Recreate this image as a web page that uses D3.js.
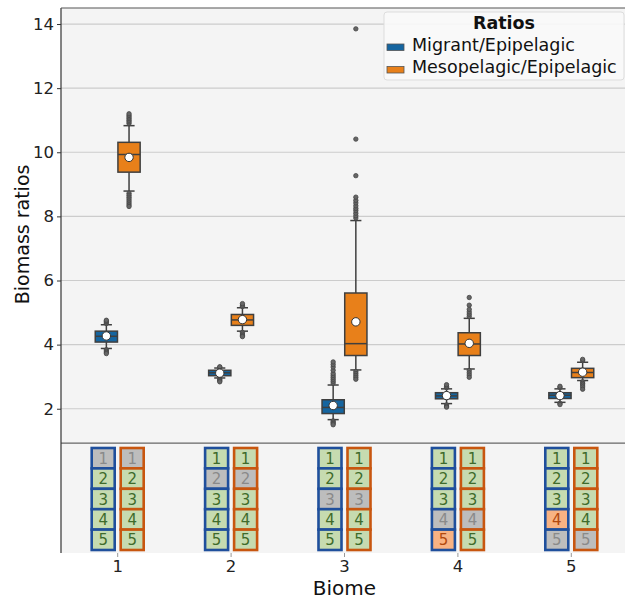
<!DOCTYPE html>
<html>
<head>
<meta charset="utf-8">
<script src="https://cdn.jsdelivr.net/npm/d3@7"></script>
<style>
  body { margin: 0; background: #fff; }
  svg { font-family: "DejaVu Sans", sans-serif; }
</style>
</head>
<body>
<div id="chart"></div>
<script>
// ---- data ----
const biomes = [1, 2, 3, 4, 5];
const ratios = ['Migrant/Epipelagic', 'Mesopelagic/Epipelagic'];
const yTicks = [2, 4, 6, 8, 10, 12, 14];

// per biome: [whisker low, q1, median, q3, whisker high, mean]
const migrantStats = [
  [3.88, 4.08, 4.26, 4.42, 4.62, 4.27],
  [2.96, 3.03, 3.12, 3.20, 3.27, 3.11],
  [1.66, 1.85, 2.04, 2.28, 2.74, 2.10],
  [2.16, 2.31, 2.40, 2.50, 2.62, 2.41],
  [2.20, 2.32, 2.42, 2.50, 2.62, 2.41]
];
const mesoStats = [
  [8.79, 9.38, 9.93, 10.31, 10.83, 9.84],
  [4.42, 4.60, 4.77, 4.94, 5.15, 4.78],
  [3.21, 3.66, 4.03, 5.61, 7.87, 4.71],
  [3.24, 3.66, 4.02, 4.37, 4.82, 4.04],
  [2.88, 2.97, 3.13, 3.26, 3.45, 3.14]
];
const migrantOutliers = [
  [4.66, 4.70, 4.73, 4.76, 3.84, 3.80, 3.76, 3.72],
  [3.29, 3.31, 2.93, 2.90, 2.87, 2.84],
  [2.80, 2.86, 2.92, 2.98, 3.04, 3.10, 3.20, 3.30, 3.38, 3.46, 1.62, 1.58, 1.54, 1.50],
  [2.66, 2.70, 2.75, 2.12, 2.08, 2.05],
  [2.66, 2.70, 2.17, 2.13]
];
const mesoOutliers = [
  [10.90, 10.95, 11.00, 11.05, 11.10, 11.15, 11.20, 8.72, 8.66, 8.60, 8.54, 8.48, 8.42, 8.36, 8.31],
  [5.19, 5.23, 5.28, 4.38, 4.33, 4.28, 4.25],
  [7.95, 8.02, 8.10, 8.18, 8.25, 8.33, 8.42, 8.50, 8.60, 9.27, 10.41, 13.85, 3.16, 3.10, 3.04, 2.98, 2.92],
  [4.88, 4.95, 5.02, 5.10, 5.23, 5.47, 3.19, 3.12, 3.05, 2.98],
  [3.50, 3.54, 2.84, 2.79, 2.74, 2.68, 2.61]
];

// comparison table: s = same biome, d = different, n = not different
const tableRows = [1, 2, 3, 4, 5];
const migrantCells = [
  ['s', 'd', 'd', 'd', 'd'],
  ['d', 's', 'd', 'd', 'd'],
  ['d', 'd', 's', 'd', 'd'],
  ['d', 'd', 'd', 's', 'n'],
  ['d', 'd', 'd', 'n', 's']
];
const mesoCells = [
  ['s', 'd', 'd', 'd', 'd'],
  ['d', 's', 'd', 'd', 'd'],
  ['d', 'd', 's', 'd', 'd'],
  ['d', 'd', 'd', 's', 'd'],
  ['d', 'd', 'd', 'd', 's']
];

// ---- layout ----
const width = 625, height = 600;
const plot = {left: 61, right: 628, top: 8, bottom: 553};

const colors = {
  'Migrant/Epipelagic': '#1565a0',
  'Mesopelagic/Epipelagic': '#e8801a'
};
const tableColors = {
  'Migrant/Epipelagic': '#1f4f9c',
  'Mesopelagic/Epipelagic': '#c8560f'
};
const cellStyle = {
  s: {fill: '#bdbdbd', text: '#8a8a8a'},
  d: {fill: '#c6dbb0', text: '#3f6b2b'},
  n: {fill: '#f8b283', text: '#b2480f'}
};

const svg = d3.select('#chart').append('svg')
  .attr('width', width).attr('height', height);

const x = d3.scaleBand().domain(biomes).range([plot.left, plot.right]);
const hue = d3.scaleBand().domain(ratios).range([-0.2 * x.bandwidth(), 0.2 * x.bandwidth()]);
const y = d3.scaleLinear().domain([-2.5, 14.5]).range([plot.bottom, plot.top]);
const sepValue = 0.93;

// background
svg.append('rect')
  .attr('x', plot.left).attr('y', plot.top)
  .attr('width', plot.right - plot.left).attr('height', plot.bottom - plot.top)
  .attr('fill', '#f4f4f4');

// grid
svg.append('g').selectAll('line').data(yTicks).join('line')
  .attr('x1', plot.left).attr('x2', plot.right)
  .attr('y1', d => y(d)).attr('y2', d => y(d))
  .attr('stroke', '#cccccc').attr('stroke-width', 1.2);

// separator between boxes and table
svg.append('line')
  .attr('x1', plot.left).attr('x2', plot.right)
  .attr('y1', y(sepValue)).attr('y2', y(sepValue))
  .attr('stroke', '#666').attr('stroke-width', 1.3);

// boxes
const series = [
  {key: ratios[0], stats: migrantStats, outliers: migrantOutliers},
  {key: ratios[1], stats: mesoStats, outliers: mesoOutliers}
];
const boxW = hue.bandwidth() * 0.98;
const lineColor = '#3f3f3f';

series.forEach(s => {
  const g = svg.append('g');
  biomes.forEach((b, i) => {
    const [lo, q1, med, q3, hi, mean] = s.stats[i];
    const cx = x(b) + x.bandwidth() / 2 + hue(s.key) + hue.bandwidth() / 2;
    const bg = g.append('g');
    // whiskers
    bg.append('line').attr('x1', cx).attr('x2', cx).attr('y1', y(lo)).attr('y2', y(q1))
      .attr('stroke', lineColor).attr('stroke-width', 1.5);
    bg.append('line').attr('x1', cx).attr('x2', cx).attr('y1', y(q3)).attr('y2', y(hi))
      .attr('stroke', lineColor).attr('stroke-width', 1.5);
    [lo, hi].forEach(v => {
      bg.append('line').attr('x1', cx - boxW / 4).attr('x2', cx + boxW / 4)
        .attr('y1', y(v)).attr('y2', y(v))
        .attr('stroke', lineColor).attr('stroke-width', 1.5);
    });
    // outliers
    bg.selectAll('circle.out').data(s.outliers[i]).join('circle')
      .attr('class', 'out')
      .attr('cx', cx).attr('cy', d => y(d)).attr('r', 2.2)
      .attr('fill', '#666').attr('stroke', '#444').attr('stroke-width', 0.8);
    // box
    bg.append('rect')
      .attr('x', cx - boxW / 2).attr('width', boxW)
      .attr('y', y(q3)).attr('height', y(q1) - y(q3))
      .attr('fill', colors[s.key]).attr('stroke', lineColor).attr('stroke-width', 1.5);
    bg.append('line').attr('x1', cx - boxW / 2).attr('x2', cx + boxW / 2)
      .attr('y1', y(med)).attr('y2', y(med))
      .attr('stroke', lineColor).attr('stroke-width', 1.5);
    // mean
    bg.append('circle').attr('cx', cx).attr('cy', y(mean)).attr('r', 4.2)
      .attr('fill', '#fff').attr('stroke', '#333').attr('stroke-width', 1);
  });
});

// comparison table
const rowY = d3.scaleBand().domain(tableRows).range([448, 550]);
const colW = 23;
const colOffset = {'Migrant/Epipelagic': -14.5, 'Mesopelagic/Epipelagic': 14.5};
const tables = [
  {key: ratios[0], cells: migrantCells},
  {key: ratios[1], cells: mesoCells}
];
tables.forEach(t => {
  biomes.forEach((b, i) => {
    const cx = x(b) + x.bandwidth() / 2 + colOffset[t.key];
    const cg = svg.append('g');
    cg.selectAll('rect').data(tableRows).join('rect')
      .attr('x', cx - colW / 2).attr('width', colW)
      .attr('y', d => rowY(d)).attr('height', rowY.bandwidth())
      .attr('fill', (d, j) => cellStyle[t.cells[i][j]].fill)
      .attr('stroke', tableColors[t.key]).attr('stroke-width', 2.6);
    cg.selectAll('text').data(tableRows).join('text')
      .attr('x', cx).attr('y', d => rowY(d) + rowY.bandwidth() / 2 + 5.5)
      .attr('text-anchor', 'middle').attr('font-size', 15)
      .attr('fill', (d, j) => cellStyle[t.cells[i][j]].text)
      .text(d => d);
  });
});

// spines
svg.append('line').attr('x1', plot.left).attr('x2', plot.left)
  .attr('y1', plot.top).attr('y2', plot.bottom).attr('stroke', '#333').attr('stroke-width', 1.2);
svg.append('line').attr('x1', plot.left).attr('x2', plot.right)
  .attr('y1', plot.top).attr('y2', plot.top).attr('stroke', '#555').attr('stroke-width', 1.2);

// axes
const yAxis = svg.append('g').attr('transform', `translate(${plot.left},0)`)
  .call(d3.axisLeft(y).tickValues(yTicks).tickSize(4).tickPadding(3));
yAxis.select('.domain').remove();
yAxis.selectAll('.tick line').attr('stroke', '#333');
yAxis.selectAll('.tick text').attr('font-size', 16.5).attr('fill', '#222')
  .attr('font-family', '"DejaVu Sans", sans-serif');

const xAxis = svg.append('g').attr('transform', `translate(0,${plot.bottom})`)
  .call(d3.axisBottom(x).tickSize(4).tickPadding(3));
xAxis.select('.domain').remove();
xAxis.selectAll('.tick line').attr('stroke', '#999');
xAxis.selectAll('.tick text').attr('font-size', 16.5).attr('fill', '#222')
  .attr('font-family', '"DejaVu Sans", sans-serif');

// axis labels
svg.append('text')
  .attr('transform', `translate(29,${(y(1) + plot.top) / 2 + 10}) rotate(-90)`)
  .attr('text-anchor', 'middle').attr('font-size', 19).attr('fill', '#111')
  .text('Biomass ratios');
svg.append('text')
  .attr('x', (plot.left + plot.right) / 2).attr('y', 595)
  .attr('text-anchor', 'middle').attr('font-size', 20).attr('fill', '#111')
  .text('Biome');

// legend
const legend = svg.append('g').attr('transform', 'translate(384,12)');
legend.append('rect')
  .attr('width', 240).attr('height', 68).attr('rx', 3)
  .attr('fill', '#fafafa').attr('fill-opacity', 0.9)
  .attr('stroke', '#dddddd');
legend.append('text')
  .attr('x', 120).attr('y', 16.5)
  .attr('text-anchor', 'middle').attr('font-size', 17.5).attr('font-weight', 'bold')
  .attr('fill', '#111').text('Ratios');
legend.selectAll('g.item').data(ratios).join('g')
  .attr('class', 'item')
  .attr('transform', (d, i) => `translate(3,${32 + i * 22.5})`)
  .each(function(d) {
    const item = d3.select(this);
    item.append('rect').attr('width', 17).attr('height', 6.5)
      .attr('fill', colors[d]).attr('stroke', '#555').attr('stroke-width', 0.8);
    item.append('text').attr('x', 25).attr('y', 6.8)
      .attr('font-size', 17.5).attr('fill', '#111').text(d);
  });
</script>
</body>
</html>
